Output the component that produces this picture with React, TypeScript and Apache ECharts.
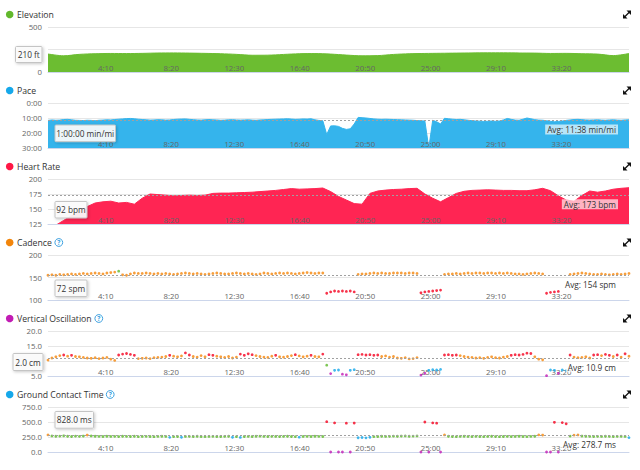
import React, { useEffect, useRef } from "react";
import * as echarts from "echarts";

const FONT = '"Open Sans", "DejaVu Sans", sans-serif';

// ---- time axis (seconds) ----
const X_MAX = 2220;
const X_TICK = 250;

// ---- data ----
const ELEV_STEP = 60;
const elevation = [
  200, 180, 196, 203, 206, 205, 207, 211, 212, 210,
  207, 203, 196, 186, 187, 195, 203, 205, 199, 188,
  180, 182, 195, 203, 206, 208, 210, 212, 213, 213,
  211, 210, 206, 207, 203, 199, 182, 205,
];

const PACE_STEP = 15;
const pace = [
  11.6, 11.3, 11.5, 11.4, 11.0, 10.9, 11.2, 11.5, 11.6, 11.7,
  11.5, 11.6, 11.8, 11.5, 11.4, 11.2, 11.3, 11.0, 10.8, 10.6,
  10.4, 10.3, 10.5, 10.8, 11.0, 11.2, 11.4, 11.3, 11.1, 11.2,
  11.4, 11.3, 11.0, 10.8, 10.7, 10.6, 10.9, 11.1, 11.3, 11.4,
  11.2, 11.0, 11.2, 11.3, 11.5, 11.4, 11.2, 11.1, 11.3, 11.4,
  11.3, 11.2, 11.4, 11.5, 11.3, 11.2, 11.0, 10.9, 10.8, 10.7,
  10.6, 10.5, 10.7, 10.9, 10.8, 10.6, 10.7, 10.5, 11.2, 11.6,
  11.8, 21.0, 15.3, 15.2, 15.6, 16.9, 17.6, 17.2, 14.0, 9.6,
  9.8, 10.0, 10.3, 10.6, 10.8, 10.9, 10.8, 10.9, 11.0, 11.1,
  11.2, 11.3, 11.4, 11.5, 11.7, 11.9, 12.0, 30.0, 11.5, 12.5,
  14.0, 10.2, 10.5, 10.8, 11.0, 10.9, 11.2, 11.5, 11.8, 12.0,
  12.1, 12.3, 12.2, 12.0, 12.2, 12.0, 11.3, 10.3, 10.9, 11.4,
  11.5, 10.8, 10.0, 10.5, 11.1, 11.4, 11.5, 11.8, 12.2, 12.5,
  12.3, 12.0, 11.6, 11.3, 11.0, 10.9, 11.1, 11.3, 11.4, 11.3,
  11.2, 11.4, 11.5, 11.3, 11.2, 11.4, 11.5, 11.3, 11.2,
];

const HR_STEP = 30;
const heartRate = [
  115, 123, 131, 139, 146, 154, 160, 162, 163, 160,
  161, 158, 168, 175, 174, 173, 172, 172.5, 173, 172.5,
  173, 176, 176.5, 176.5, 177, 177.5, 178, 179, 180, 181,
  182.5, 184, 183, 183.5, 184, 185, 179, 171, 165, 159,
  158, 176, 180, 181.5, 182.5, 183, 184, 184.5, 175, 168,
  162, 169, 176, 179.5, 181, 181.5, 182, 181.5, 181, 181,
  180.5, 180.5, 182, 184.5, 180.5, 172, 165, 163, 172.5, 180,
  178, 180, 183, 184.5, 185.5,
];

const DYN_STEP = 15;
const cadence: (number | null)[] = [
  155, 156, 155, 157, 156, 157, 158, 157, 158, 159,
  158, 159, 160, 159, 158, 160, 161, 162, 164, 156,
  155, 158, 160, 159, 159, 160, 159, 158, 159, 158,
  159, 158, 157, 158, 159, 160, 159, 158, 159, 158,
  157, 158, 159, 160, 159, 158, 158, 159, 160, 159,
  158, 159, 158, 157, 158, 160, 159, 158, 159, 160,
  159, 160, 159, 158, 159, 160, 161, 160, 159, 160,
  160, 115, 118, 120, 119, 120, 119, 120, 118, 157,
  158, 158, 159, 160, 159, 160, 159, 159, 160, 160,
  160, 159, 160, 160, 159, 116, 118, 119, 120, 121,
  122, 157, 158, 158, 159, 158, 159, 160, 159, 160,
  160, 159, 160, 160, 159, 160, 159, 160, 159, 158,
  158, 157, 158, 159, 160, 159, 158, 115, 117, 118,
  119, null, null, 157, 158, 159, 160, 159, 158, 157,
  157, 158, 157, 156, 157, 158, 157, 158, 159,
];

const verticalOscillation = [
  10.3, 11.0, 11.4, 11.8, 12.0, 11.6, 11.9, 11.5, 11.4, 11.2,
  11.0, 10.9, 11.1, 10.8, 11.0, 11.2, 10.6, 10.2, 12.0, 12.3,
  12.5, 12.2, 11.9, 10.8, 10.9, 11.0, 10.8, 11.1, 11.2, 11.3,
  11.5, 11.9, 11.6, 11.4, 11.7, 12.7, 12.0, 11.5, 11.3, 11.8,
  11.4, 12.1, 11.9, 11.6, 11.4, 11.2, 11.5, 11.0, 11.3, 12.3,
  11.9, 12.4, 12.1, 11.8, 11.5, 11.3, 11.2, 11.6, 11.9, 11.4,
  11.3, 11.5, 11.8, 12.1, 11.7, 11.4, 11.6, 11.9, 11.5, 11.4,
  12.3, 8.6, 5.8, 6.9, 7.0, 5.6, 5.4, 6.9, 7.1, 12.1,
  12.2, 12.0, 12.1, 11.9, 12.0, 11.5, 11.7, 11.3, 11.5, 11.0,
  10.9, 11.1, 10.7, 10.8, 11.1, 5.3, 5.9, 6.9, 7.1, 7.0,
  7.2, 12.0, 12.1, 11.9, 12.0, 11.8, 11.5, 11.3, 11.2, 11.0,
  11.1, 10.9, 11.2, 11.4, 11.1, 11.0, 11.3, 11.5, 11.9, 12.1,
  12.0, 12.2, 12.6, 12.5, 11.4, 10.6, 10.4, 5.1, 7.0, 6.9,
  5.9, 7.0, 6.8, 12.0, 11.3, 11.1, 11.2, 11.4, 11.0, 12.0,
  12.1, 11.8, 12.2, 11.9, 11.5, 12.0, 11.3, 12.4, 11.6,
];

const groundContactTime = [
  285, 268, 262, 265, 270, 262, 258, 264, 261, 266,
  282, 268, 263, 260, 258, 262, 259, 261, 257, 263,
  260, 258, 262, 256, 259, 261, 258, 255, 260, 262,
  259, 244, 256, 258, 246, 259, 261, 257, 262, 258,
  256, 259, 261, 257, 258, 260, 262, 245, 256, 243,
  258, 260, 257, 262, 264, 260, 258, 261, 259, 257,
  260, 262, 258, 256, 247, 259, 261, 258, 262, 260,
  258, 505, 0, 485, 0, 0, 480, 0, 482, 238,
  242, 236, 245, 256, 258, 262, 259, 261, 264, 262,
  266, 268, 263, 265, 268, 0, 500, 0, 485, 480,
  0, 284, 262, 258, 256, 260, 262, 259, 257, 261,
  258, 256, 259, 262, 257, 255, 258, 260, 257, 259,
  262, 258, 256, 260, 263, 285, 282, 0, 0, 495,
  0, 490, 470, 265, 281, 284, 266, 262, 260, 258,
  261, 259, 262, 260, 258, 261, 263, 259, 240,
];

// zone thresholds (lower bounds) for the running-dynamics colour zones
const cadenceZoneBounds = [153, 164, 174, 184];
const voZoneBounds = [6.7, 8.4, 10.1, 11.85];
const gctZoneBounds = [218, 249, 278, 309];

// ---- panel texts / scales ----
const panelTitles = ["Elevation", "Pace", "Heart Rate", "Cadence", "Vertical Oscillation", "Ground Contact Time"];
const yMins = [0, 0, 125, 100, 5, 0];
const yMaxs = [500, 30, 200, 200, 20, 750];
const yIntervals = [250, 10, 25, 50, 5, 250];
// y tick value hidden behind the hover box in each panel (null = none)
const yHiddenTicks: (number | null)[] = [250, null, null, null, 10, null];
const avgValues: (number | null)[] = [null, 11 + 38 / 60, 173, 154, 10.9, 278.7];
const avgTexts = ["", "Avg: 11:38 min/mi", "Avg: 173 bpm", "Avg: 154 spm", "Avg: 10.9 cm", "Avg: 278.7 ms"];
const hoverTexts = ["210 ft", "1:00:00 min/mi", "92 bpm", "72 spm", "2.0 cm", "828.0 ms"];
const hasHelpIcon = [false, false, false, true, true, true];

// ---- colours ----
const C_RED = "#f5001e";
const C_ORANGE = "#f5860a";
const C_GREEN = "#5cb82a";
const C_BLUE = "#14a7ea";
const C_PURPLE = "#c21cb4";
const titleDotColors = ["#62b82c", "#16a8ea", "#ff1745", "#f2850a", "#c21cb4", "#16a8ea"];
const areaColors = ["#6cbd31", "#35b4ec", "#ff2553"];

// ---- layout ----
const GRID_LEFT = 48;
const GRID_WIDTH = 581;
const GRID_TOP0 = 27;
const PANEL_PITCH = 76;
const GRID_HEIGHT = 45;
const hoverBoxes = [
  { x: 15.5, y: 46.5, w: 26.5, h: 16 },
  { x: 55, y: 125, w: 60.5, h: 16.7 },
  { x: 55, y: 201.5, w: 32, h: 16.5 },
  { x: 55, y: 280, w: 32, h: 16.5 },
  { x: 13, y: 353.5, w: 30, h: 17 },
  { x: 55, y: 411.5, w: 38.5, h: 16.7 },
];
const helpIconX = [0, 0, 0, 58.8, 98.8, 110.2];

function pairs(values: (number | null)[], step: number) {
  const out: [number, number][] = [];
  values.forEach((v, i) => {
    if (v !== null && v !== undefined) out.push([i * step, v]);
  });
  return out;
}

function fmtTime(t: number) {
  const m = Math.floor(t / 60);
  const s = Math.round(t % 60);
  return `${m}:${String(s).padStart(2, "0")}`;
}

function zonePieces(bounds: number[], colors: string[]) {
  const pieces: any[] = [];
  pieces.push({ lt: bounds[0], color: colors[0] });
  for (let i = 0; i < bounds.length - 1; i++) {
    pieces.push({ gte: bounds[i], lt: bounds[i + 1], color: colors[i + 1] });
  }
  pieces.push({ gte: bounds[bounds.length - 1], color: colors[bounds.length] });
  return pieces;
}

function buildOption() {
  const grids: any[] = [];
  const xAxes: any[] = [];
  const yAxes: any[] = [];
  const series: any[] = [];
  const visualMaps: any[] = [];
  const graphics: any[] = [];

  const yFormatters = [
    (v: number) => `${v}`,
    (v: number) => `${v}:00`,
    (v: number) => `${v}`,
    (v: number) => `${v}`,
    (v: number) => v.toFixed(1),
    (v: number) => v.toFixed(1),
  ];

  for (let k = 0; k < 6; k++) {
    const isArea = k < 3;
    grids.push({ left: GRID_LEFT, top: GRID_TOP0 + PANEL_PITCH * k, width: GRID_WIDTH, height: GRID_HEIGHT });
    xAxes.push({
      gridIndex: k,
      type: "value",
      min: 0,
      max: X_MAX,
      interval: X_TICK,
      z: isArea ? 6 : 0,
      axisLine: { show: true, onZero: false, lineStyle: { color: "#ccd6eb", width: 1 } },
      axisTick: { show: false },
      splitLine: { show: false },
      axisLabel: {
        inside: true,
        align: "right",
        verticalAlign: "bottom",
        margin: 0,
        color: "#666",
        fontSize: 7.8,
        fontFamily: FONT,
        showMinLabel: false,
        showMaxLabel: false,
        formatter: (v: number) => (v === 0 || v % X_TICK !== 0 ? "" : fmtTime(v)),
      },
    });
    const hidden = yHiddenTicks[k];
    const fmt = yFormatters[k];
    yAxes.push({
      gridIndex: k,
      type: "value",
      min: yMins[k],
      max: yMaxs[k],
      interval: yIntervals[k],
      inverse: k === 1,
      axisLine: { show: false },
      axisTick: { show: false },
      splitLine: { show: true, lineStyle: { color: "#e6e6e6", width: 1 } },
      axisLabel: {
        color: "#666",
        fontSize: 7.8,
        fontFamily: FONT,
        margin: 6,
        formatter: (v: number) => (hidden !== null && v === hidden ? "" : fmt(v)),
      },
    });

    const avg = avgValues[k];
    if (avg !== null) {
      series.push({
        type: "line",
        xAxisIndex: k,
        yAxisIndex: k,
        data: [],
        z: 1,
        silent: true,
        markLine: {
          silent: true,
          symbol: "none",
          animation: false,
          lineStyle: { type: [2, 2], color: "#a0a0a0", width: 1 },
          label: { show: false },
          data: [{ yAxis: avg }],
        },
      });
    }

    const labelMarkLine =
      avg !== null
        ? {
            silent: true,
            symbol: "none",
            animation: false,
            lineStyle: { color: "rgba(0,0,0,0)", width: 1, type: "solid" },
            label: {
              show: true,
              position: "insideEndBottom",
              distance: [11, 4],
              formatter: avgTexts[k],
              color: "#333",
              opacity: 1,
              fontSize: 8.25,
              fontFamily: FONT,
              backgroundColor: "rgba(255,255,255,0.65)",
              padding: [1, 2, 1, 2],
            },
            data: [{ yAxis: avg }],
          }
        : undefined;

    if (isArea) {
      const vals = k === 0 ? elevation : k === 1 ? pace : heartRate;
      const step = k === 0 ? ELEV_STEP : k === 1 ? PACE_STEP : HR_STEP;
      series.push({
        type: "line",
        xAxisIndex: k,
        yAxisIndex: k,
        data: pairs(vals, step),
        smooth: k === 0 ? 0.3 : false,
        showSymbol: false,
        symbol: "none",
        z: 2,
        clip: true,
        lineStyle: { color: areaColors[k], width: 1 },
        areaStyle: { color: areaColors[k], opacity: 1, origin: k === 1 ? "end" : "auto" },
        markLine: labelMarkLine,
        silent: true,
      });
    } else {
      const vals = k === 3 ? cadence : k === 4 ? verticalOscillation : groundContactTime;
      const bounds = k === 3 ? cadenceZoneBounds : k === 4 ? voZoneBounds : gctZoneBounds;
      const colors =
        k === 3
          ? [C_RED, C_ORANGE, C_GREEN, C_BLUE, C_PURPLE]
          : [C_PURPLE, C_BLUE, C_GREEN, C_ORANGE, C_RED];
      const idx = series.length;
      series.push({
        type: "scatter",
        xAxisIndex: k,
        yAxisIndex: k,
        data: pairs(vals, DYN_STEP),
        symbol: "circle",
        symbolSize: 2.8,
        z: 3,
        silent: true,
        markLine: labelMarkLine,
      });
      visualMaps.push({
        type: "piecewise",
        show: false,
        seriesIndex: idx,
        dimension: 1,
        pieces: zonePieces(bounds, colors),
      });
    }

    // title row
    const ty = 14.5 + PANEL_PITCH * k;
    graphics.push({ type: "circle", shape: { cx: 9.7, cy: ty, r: 3.8 }, style: { fill: titleDotColors[k] }, z: 10 });
    graphics.push({
      type: "text",
      x: 17,
      y: ty,
      style: { text: panelTitles[k], fill: "#333", fontSize: 8.7, fontFamily: FONT, verticalAlign: "middle", align: "left" },
      z: 10,
    });
    if (hasHelpIcon[k]) {
      graphics.push({
        type: "circle",
        shape: { cx: helpIconX[k], cy: ty, r: 3.9 },
        style: { fill: "#fff", stroke: "#3a9fe0", lineWidth: 1 },
        z: 10,
      });
      graphics.push({
        type: "text",
        x: helpIconX[k],
        y: ty + 0.3,
        style: { text: "?", fill: "#3a9fe0", fontSize: 6.5, fontWeight: "bold", fontFamily: FONT, align: "center", verticalAlign: "middle" },
        z: 11,
      });
    }
    // expand icon
    const ex = 627;
    const ey = ty;
    graphics.push({
      type: "polygon",
      shape: { points: [[ex + 4, ey - 4], [ex - 0.5, ey - 4], [ex + 4, ey + 0.5]] },
      style: { fill: "#111" },
      z: 10,
    });
    graphics.push({
      type: "polygon",
      shape: { points: [[ex - 4, ey + 4], [ex - 4, ey - 0.5], [ex + 0.5, ey + 4]] },
      style: { fill: "#111" },
      z: 10,
    });
    graphics.push({
      type: "line",
      shape: { x1: ex - 2.5, y1: ey + 2.5, x2: ex + 2.5, y2: ey - 2.5 },
      style: { stroke: "#111", lineWidth: 1.3 },
      z: 10,
    });

    // hover value box
    const b = hoverBoxes[k];
    graphics.push({
      type: "rect",
      shape: { x: b.x, y: b.y, width: b.w, height: b.h, r: 1 },
      style: {
        fill: "rgba(252,252,252,0.92)",
        stroke: "#c4c4c4",
        lineWidth: 1,
        shadowBlur: 3,
        shadowColor: "rgba(0,0,0,0.22)",
        shadowOffsetX: 1,
        shadowOffsetY: 1,
      },
      z: 100,
    });
    graphics.push({
      type: "text",
      x: b.x + b.w / 2,
      y: b.y + b.h / 2,
      style: { text: hoverTexts[k], fill: "#333", fontSize: 8.3, fontFamily: FONT, align: "center", verticalAlign: "middle" },
      z: 101,
    });
  }

  return {
    animation: false,
    backgroundColor: "#fff",
    textStyle: { fontFamily: FONT },
    grid: grids,
    xAxis: xAxes,
    yAxis: yAxes,
    series,
    visualMap: visualMaps,
    graphic: graphics,
  };
}

export default function App() {
  const ref = useRef<HTMLDivElement>(null);
  useEffect(() => {
    if (!ref.current) return;
    const chart = echarts.init(ref.current, undefined, { renderer: "svg" });
    chart.setOption(buildOption() as any);
    return () => chart.dispose();
  }, []);
  return (
    <div
      ref={ref}
      style={{ position: "absolute", left: 0, top: 0, width: 640, height: 470, background: "#fff" }}
    />
  );
}
